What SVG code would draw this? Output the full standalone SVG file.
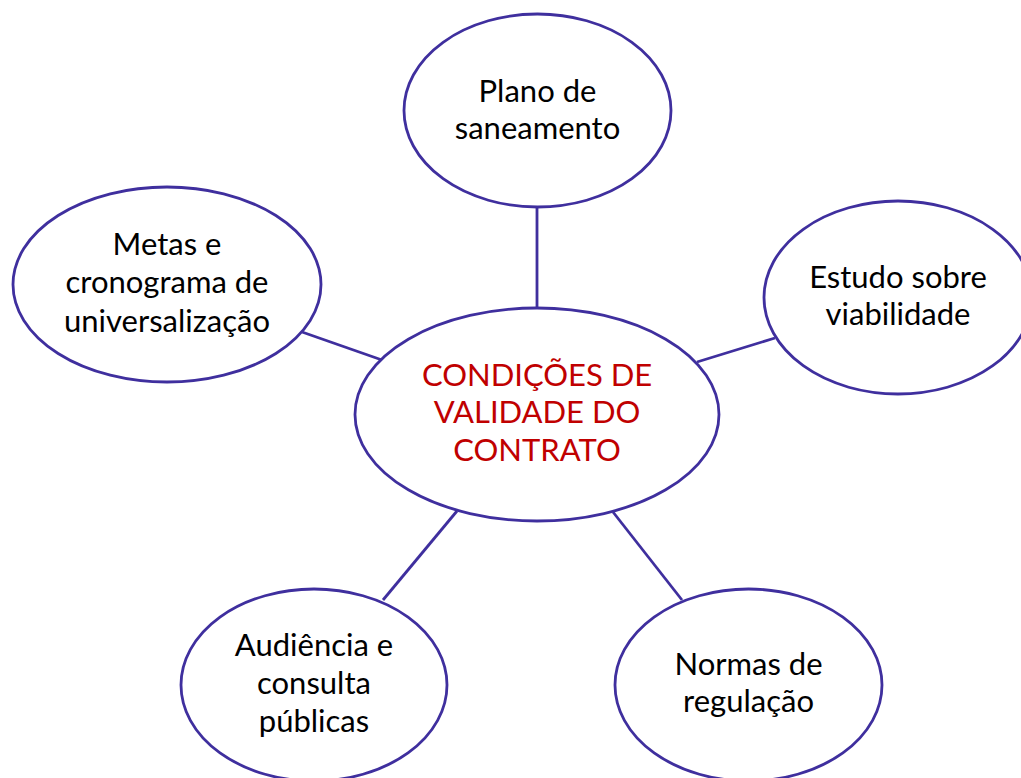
<svg xmlns="http://www.w3.org/2000/svg" width="1021" height="778" viewBox="0 0 1021 778">
<style>
.n{fill:#fff;stroke:#3F2F9E;stroke-width:2.8}
.c{stroke:#3F2F9E;stroke-width:2.8;fill:none}
.t{font-family:Lato,"Noto Sans",sans-serif;font-size:31px;fill:#000;text-anchor:middle}
.r{font-family:Lato,"Noto Sans",sans-serif;font-size:31px;fill:#C00000;text-anchor:middle}
</style>
<rect width="1021" height="778" fill="#fff"/>
<g id="connectors">
<line class="c" x1="537" y1="207" x2="537" y2="308"/>
<line class="c" x1="302" y1="332" x2="382" y2="360"/>
<line class="c" x1="775" y1="338" x2="697" y2="362"/>
<line class="c" x1="383" y1="600" x2="457" y2="511"/>
<line class="c" x1="613" y1="512" x2="682" y2="600"/>
</g>
<g id="center">
<ellipse class="n" cx="537" cy="414.5" rx="182" ry="106.5"/>
<text class="r" x="537" y="386">CONDIÇÕES DE</text>
<text class="r" x="537" y="423">VALIDADE DO</text>
<text class="r" x="537" y="461">CONTRATO</text>
</g>
<g id="plano">
<ellipse class="n" cx="537.5" cy="110.5" rx="133.5" ry="96.5"/>
<text class="t" x="537.5" y="102">Plano de</text>
<text class="t" x="537.5" y="139">saneamento</text>
</g>
<g id="metas">
<ellipse class="n" cx="167" cy="284.5" rx="154" ry="97.5"/>
<text class="t" x="167" y="255">Metas e</text>
<text class="t" x="167" y="293">cronograma de</text>
<text class="t" x="167" y="332">universalização</text>
</g>
<g id="estudo">
<ellipse class="n" cx="898" cy="297.5" rx="134" ry="96.5"/>
<text class="t" x="898" y="288">Estudo sobre</text>
<text class="t" x="898" y="325">viabilidade</text>
</g>
<g id="audiencia">
<ellipse class="n" cx="314" cy="685" rx="133" ry="96"/>
<text class="t" x="314" y="656">Audiência e</text>
<text class="t" x="314" y="694">consulta</text>
<text class="t" x="314" y="732">públicas</text>
</g>
<g id="normas">
<ellipse class="n" cx="748.5" cy="685" rx="133.5" ry="96"/>
<text class="t" x="748.5" y="675">Normas de</text>
<text class="t" x="748.5" y="712">regulação</text>
</g>
</svg>
